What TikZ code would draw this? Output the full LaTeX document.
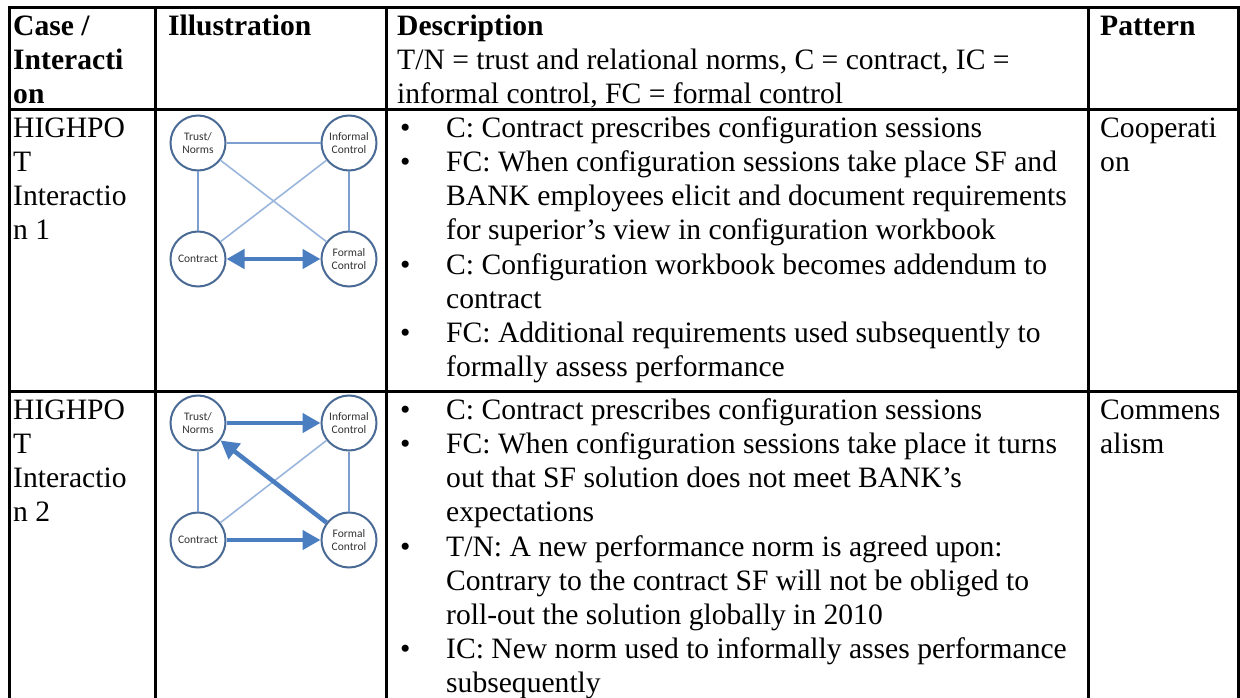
\documentclass[tikz,border=0pt]{standalone}
\usepackage{fontspec}
\setmainfont{Liberation Serif}
\newfontfamily\diagfont{Carlito}
\usetikzlibrary{arrows.meta}

\definecolor{ringblue}{HTML}{4A6A96}
\definecolor{thinblue}{HTML}{7D9FCF}
\definecolor{paleblue}{HTML}{9AB6DC}
\definecolor{boldblue}{HTML}{4A7EC0}
\definecolor{labelgray}{HTML}{333333}

\tikzset{
  rule/.style={line width=3pt, black},
  cell/.style={anchor=north west, inner sep=0pt, align=left,
    font=\fontsize{29.6}{34.2}\selectfont},
  headcell/.style={cell, font=\fontsize{29.6}{34.2}\selectfont\bfseries},
  bulletmark/.style={anchor=north west, inner sep=0pt,
    font=\fontsize{29.6}{34.2}\selectfont},
  ring/.style={circle, draw=ringblue, line width=2pt, fill=white,
    minimum size=55pt, inner sep=0pt, align=center, text=labelgray,
    font=\diagfont\fontsize{11.5}{13}\selectfont},
  link/.style={draw=thinblue, line width=1.5pt},
  crosslink/.style={draw=paleblue, line width=1.6pt},
  flow/.style={draw=boldblue, line width=4.5pt,
    -{Triangle[length=18pt,width=19pt]}},
  twoway/.style={draw=boldblue, line width=4.5pt,
    {Triangle[length=18pt,width=19pt]}-{Triangle[length=18pt,width=19pt]}}
}

\newcommand{\sline}{\strut}

\begin{document}
\begin{tikzpicture}[x=1pt,y=-1pt]
\useasboundingbox (0,0) rectangle (1240,698);
\fill[white] (0,0) rectangle (1240,698);

% table rules
\draw[rule] (7.5,8) -- (1239.5,8);
\draw[rule] (7.5,110) -- (1239.5,110);
\draw[rule] (7.5,391) -- (1239.5,391);
\foreach \xx in {9,155,386,1088,1238}
  \draw[rule] (\xx,6.5) -- (\xx,698);

% header row (first baseline at y = 35)
\node[headcell] (hcase) at (13,11.1) {\sline Case /\\Interacti\\on};
\node[headcell] (hill) at (168,11.1) {\sline Illustration};
\node[headcell] (hdesc) at (397,11.1) {\sline Description};
\node[cell] (hdesc2) at (397,45.3) {\sline T/N = trust and relational norms, C = contract, IC =\\informal control, FC = formal control};
\node[headcell] (hpat) at (1100,11.1) {\sline Pattern};

% row 1 (first baseline at y = 137)
\node[cell] (caseA) at (13,113.1) {\sline HIGHPO\\T\\Interactio\\n 1};
\node[cell] (patA) at (1100,113.1) {\sline Cooperati\\on};
\node[bulletmark] (bA1) at (400,113.1) {\sline\textbullet};
\node[cell] (dA1) at (446,113.1) {\sline C: Contract prescribes configuration sessions};
\node[bulletmark] (bA2) at (400,147.3) {\sline\textbullet};
\node[cell] (dA2) at (446,147.3) {\sline FC: When configuration sessions take place SF and\\BANK employees elicit and document requirements\\for superior’s view in configuration workbook};
\node[bulletmark] (bA3) at (400,249.9) {\sline\textbullet};
\node[cell] (dA3) at (446,249.9) {\sline C: Configuration workbook becomes addendum to\\contract};
\node[bulletmark] (bA4) at (400,318.3) {\sline\textbullet};
\node[cell] (dA4) at (446,318.3) {\sline FC: Additional requirements used subsequently to\\formally assess performance};

% row 2 (first baseline at y = 419)
\node[cell] (caseB) at (13,395.1) {\sline HIGHPO\\T\\Interactio\\n 2};
\node[cell] (patB) at (1100,395.1) {\sline Commens\\alism};
\node[bulletmark] (bB1) at (400,395.1) {\sline\textbullet};
\node[cell] (dB1) at (446,395.1) {\sline C: Contract prescribes configuration sessions};
\node[bulletmark] (bB2) at (400,429.3) {\sline\textbullet};
\node[cell] (dB2) at (446,429.3) {\sline FC: When configuration sessions take place it turns\\out that SF solution does not meet BANK’s\\expectations};
\node[bulletmark] (bB3) at (400,531.9) {\sline\textbullet};
\node[cell] (dB3) at (446,531.9) {\sline T/N: A new performance norm is agreed upon:\\Contrary to the contract SF will not be obliged to\\roll-out the solution globally in 2010};
\node[bulletmark] (bB4) at (400,634.5) {\sline\textbullet};
\node[cell] (dB4) at (446,634.5) {\sline IC: New norm used to informally asses performance\\subsequently};

% illustration 1: cooperation
\node[ring] (tnA) at (198,143) {Trust/\\Norms};
\node[ring] (icA) at (349,143) {Informal\\Control};
\node[ring] (coA) at (198,259) {Contract};
\node[ring] (fcA) at (349,259) {Formal\\Control};
\draw[link] (tnA) -- (icA);
\draw[link] (tnA) -- (coA);
\draw[link] (icA) -- (fcA);
\draw[crosslink] (tnA) -- (fcA);
\draw[crosslink] (icA) -- (coA);
\draw[twoway] (coA) -- (fcA);

% illustration 2: commensalism
\node[ring] (tnB) at (198,423) {Trust/\\Norms};
\node[ring] (icB) at (349,423) {Informal\\Control};
\node[ring] (coB) at (198,540) {Contract};
\node[ring] (fcB) at (349,540) {Formal\\Control};
\draw[link] (tnB) -- (coB);
\draw[link] (icB) -- (fcB);
\draw[crosslink] (icB) -- (coB);
\draw[flow] (tnB) -- (icB);
\draw[flow] (coB) -- (fcB);
\draw[flow] (fcB) -- (tnB);
\end{tikzpicture}
\end{document}
